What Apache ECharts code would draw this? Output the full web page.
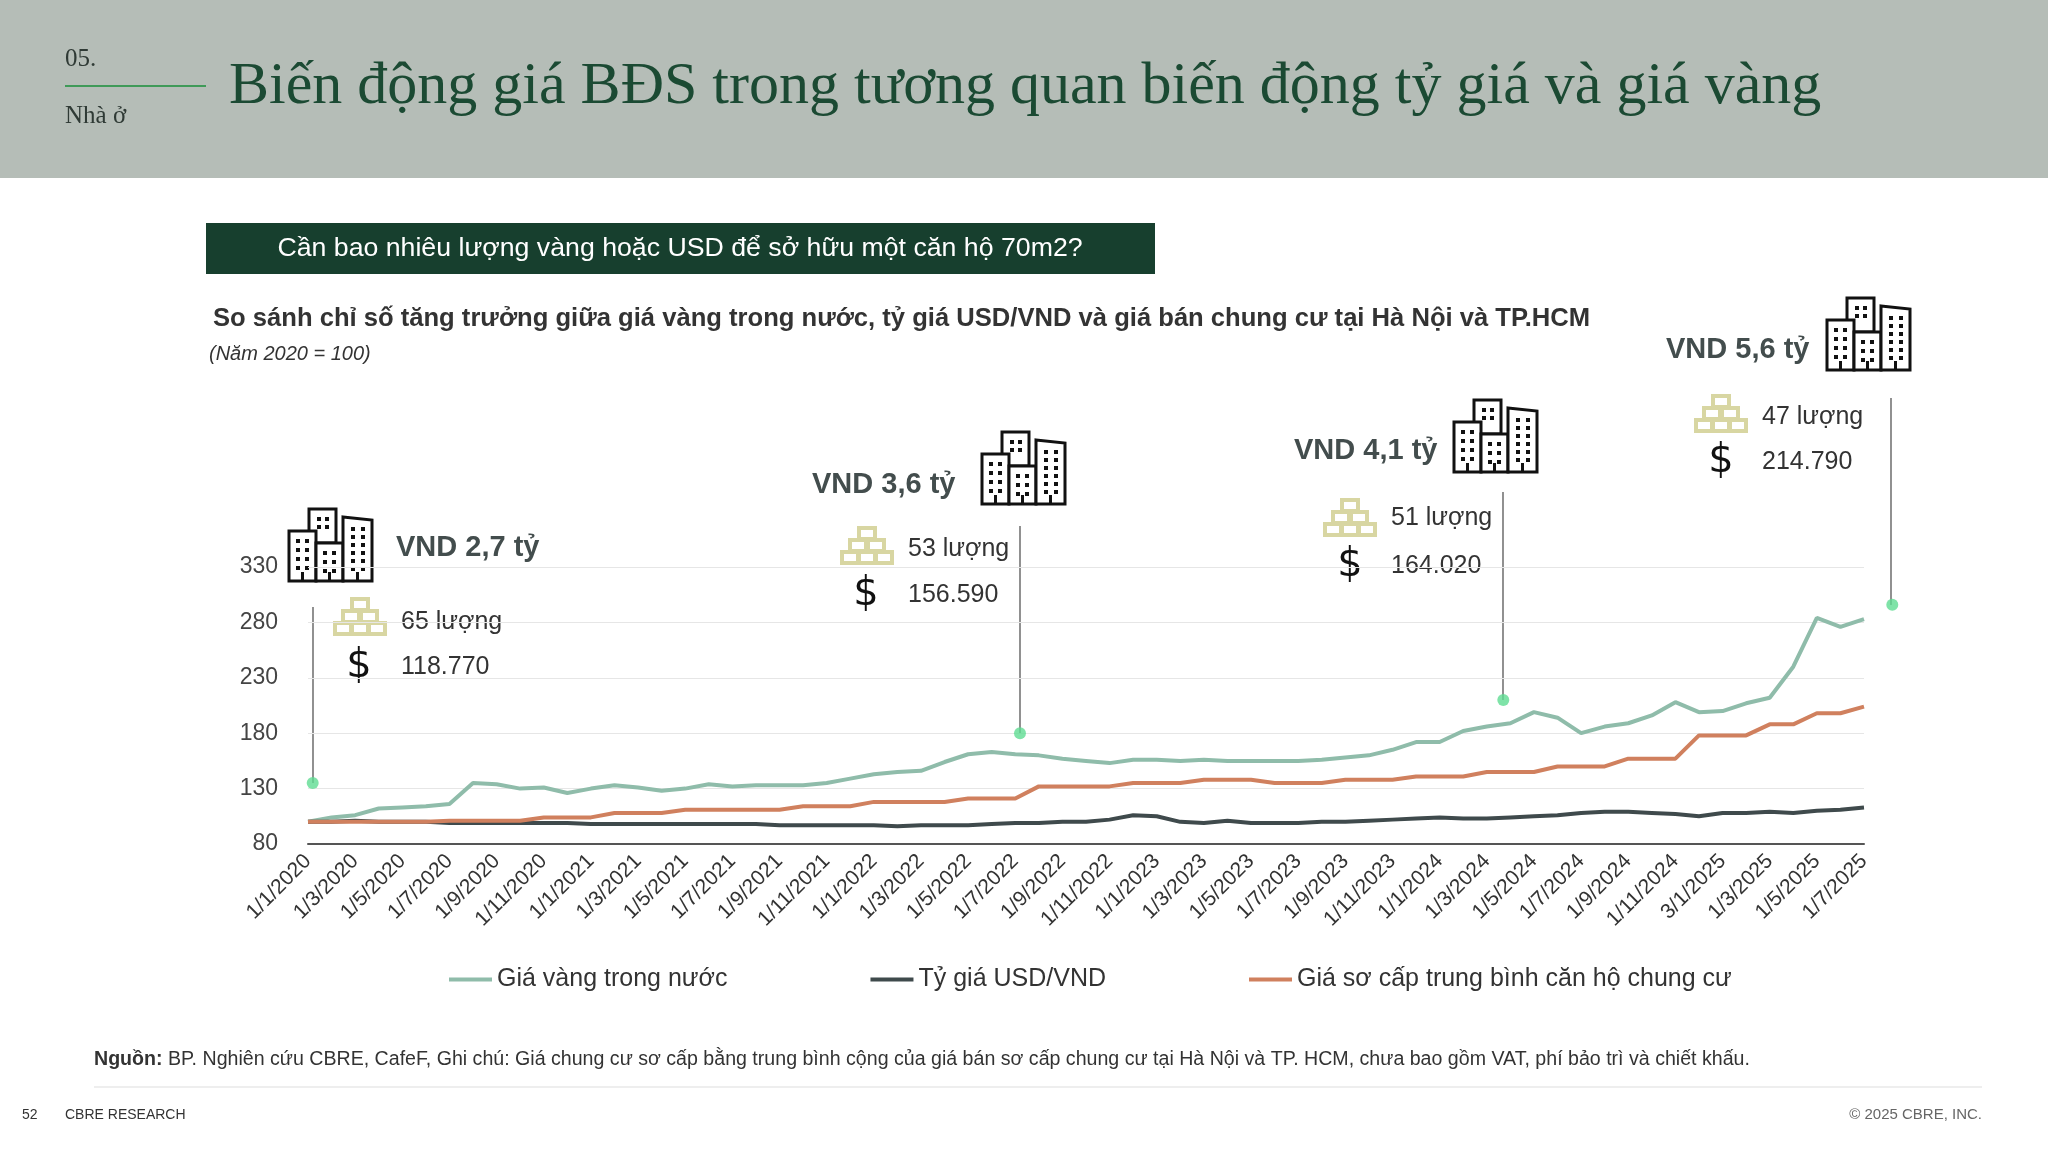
<!DOCTYPE html>
<html><head><meta charset="utf-8">
<script src="https://cdn.jsdelivr.net/npm/echarts@6/dist/echarts.min.js"></script>
<style>html,body{margin:0;padding:0;background:#fff}#c{width:2048px;height:1152px}</style>
</head><body><div id="c"></div>
<script>
// Categories: monthly from 1/1/2020 to 1/7/2025
const categories = [];
for (let y = 2020; y <= 2025; y++) for (let m = 1; m <= 12; m++) { if (y === 2025 && m > 7) break; categories.push('1/' + m + '/' + y); }
categories[60] = '3/1/2025';

const goldIdx = [100,104,106,112,113,114,116,135,134,130,131,126,130,133,131,128,130,134,132,133,133,133,135,139,143,145,146,154,161,163,161,160,157,155,153,156,156,155,156,155,155,155,155,156,158,160,165,172,172,182,186,189,199,194,180,186,189,196,208,199,200,207,212,240,284,276,283];
const usdIdx = [100,100,101,100,100,100,99,99,99,99,99,99,98,98,98,98,98,98,98,98,97,97,97,97,97,96,97,97,97,98,99,99,100,100,102,106,105,100,99,101,99,99,99,100,100,101,102,103,104,103,103,104,105,106,108,109,109,108,107,105,108,108,109,108,110,111,113];
const aptIdx = [100,100,100,100,100,100,101,101,101,101,104,104,104,108,108,108,111,111,111,111,111,114,114,114,118,118,118,118,121,121,121,132,132,132,132,135,135,135,138,138,138,135,135,135,138,138,138,141,141,141,145,145,145,150,150,150,157,157,157,178,178,178,188,188,198,198,204];
// highlighted points (month index, index value)
const dotPoints = [[0.2,135],[30.2,180],[50.7,210],[67.2,296]];
const yTicks = {min: 80, max: 330, interval: 50};

const ann = [
  {vnd:'VND 2,7 tỷ', gold:'65 lượng', usd:'118.770', b:[289,509], t:[396,548], g:[333,597], gt:[401,622], d:[359,667], line:[313,607,783]},
  {vnd:'VND 3,6 tỷ', gold:'53 lượng', usd:'156.590', b:[982,432], t:[812,485], g:[840,526], gt:[908,549], d:[866,595], line:[1020,526,733]},
  {vnd:'VND 4,1 tỷ', gold:'51 lượng', usd:'164.020', b:[1454,400], t:[1294,451], g:[1323,498], gt:[1391,518], d:[1350,566], line:[1503,492,700]},
  {vnd:'VND 5,6 tỷ', gold:'47 lượng', usd:'214.790', b:[1827,298], t:[1666,350], g:[1694,394], gt:[1762,417], d:[1721,462], line:[1891,398,605]}
];

function building(x, y) {
  const s = {stroke:'#111', lineWidth:3, fill:'#fff'};
  const ch = [];
  ch.push({type:'rect', shape:{x:x+20,y:y,width:27,height:34}, style:s});
  ch.push({type:'rect', shape:{x:x,y:y+22,width:27,height:50}, style:s});
  ch.push({type:'rect', shape:{x:x+27,y:y+34,width:27,height:38}, style:s});
  ch.push({type:'polygon', shape:{points:[[x+54,y+8],[x+83,y+11],[x+83,y+72],[x+54,y+72]]}, style:s});
  const win = (wx, wy) => ch.push({type:'rect', shape:{x:wx,y:wy,width:4,height:4}, style:{fill:'#111'}});
  [[x+28,y+8],[x+36,y+8],[x+28,y+16],[x+36,y+16]].forEach(p=>win(...p));
  for (let r=0;r<4;r++){ win(x+7,y+30+r*9); win(x+16,y+30+r*9); }
  for (let r=0;r<3;r++){ win(x+34,y+42+r*9); win(x+43,y+42+r*9); }
  for (let r=0;r<6;r++){ win(x+62,y+18+r*8); win(x+72,y+18+r*8); }
  [x+12,x+39,x+67].forEach(dx=>ch.push({type:'rect', shape:{x:dx,y:y+63,width:3,height:9}, style:{fill:'#111'}}));
  return {type:'group', children:ch};
}
function goldBars(x, y) {
  const s = {fill:'#fff', stroke:'#d8d6a2', lineWidth:4};
  const ch = [];
  const w=16, h=11;
  [[x+19,y+2],[x+10,y+14],[x+28,y+14],[x+2,y+26],[x+19,y+26],[x+36,y+26]].forEach(p=>{
    ch.push({type:'rect', shape:{x:p[0],y:p[1],width:w,height:h}, style:s});
  });
  return {type:'group', children:ch};
}

const graphics = [
  {type:'rect', shape:{x:0,y:0,width:2048,height:178}, style:{fill:'#b5bdb7'}},
  {type:'text', style:{x:65,y:59,text:'05.',font:'25px "Liberation Serif"',fill:'#2f3a35',textVerticalAlign:'middle'}},
  {type:'line', shape:{x1:65,y1:86,x2:206,y2:86}, style:{stroke:'#3f9a58',lineWidth:2}},
  {type:'text', style:{x:65,y:116,text:'Nhà ở',font:'25px "Liberation Serif"',fill:'#2f3a35',textVerticalAlign:'middle'}},
  {type:'text', style:{x:229,y:87,text:'Biến động giá BĐS trong tương quan biến động tỷ giá và giá vàng',font:'60px "Liberation Serif"',fill:'#1b4a33',textVerticalAlign:'middle'}},
  {type:'rect', shape:{x:206,y:223,width:949,height:51}, style:{fill:'#173f2e'}},
  {type:'text', style:{x:680,y:249,text:'Cần bao nhiêu lượng vàng hoặc USD để sở hữu một căn hộ 70m2?',font:'26.7px "Liberation Sans"',fill:'#fff',textAlign:'center',textVerticalAlign:'middle'}},
  {type:'text', style:{x:213,y:319,text:'So sánh chỉ số tăng trưởng giữa giá vàng trong nước, tỷ giá USD/VND và giá bán chung cư tại Hà Nội và TP.HCM',font:'bold 25.6px "Liberation Sans"',fill:'#333',textVerticalAlign:'middle'}},
  {type:'text', style:{x:209,y:354,text:'(Năm 2020 = 100)',font:'italic 20px "Liberation Sans"',fill:'#333',textVerticalAlign:'middle'}},
  {type:'text', style:{x:94,y:1060,rich:{b:{font:'bold 19.6px "Liberation Sans"',fill:'#333'},n:{font:'19.6px "Liberation Sans"',fill:'#333'}},text:'{b|Nguồn:}{n| BP. Nghiên cứu CBRE, CafeF, Ghi chú: Giá chung cư sơ cấp bằng trung bình cộng của giá bán sơ cấp chung cư tại Hà Nội và TP. HCM, chưa bao gồm VAT, phí bảo trì và chiết khấu.}',textVerticalAlign:'middle'}},
  {type:'line', shape:{x1:94,y1:1087,x2:1982,y2:1087}, style:{stroke:'#ddd',lineWidth:1}},
  {type:'text', style:{x:22,y:1115,text:'52',font:'14px "Liberation Sans"',fill:'#333',textVerticalAlign:'middle'}},
  {type:'text', style:{x:65,y:1115,text:'CBRE RESEARCH',font:'14px "Liberation Sans"',fill:'#333',textVerticalAlign:'middle'}},
  {type:'text', style:{x:1982,y:1115,text:'© 2025 CBRE, INC.',font:'15px "Liberation Sans"',fill:'#666',textAlign:'right',textVerticalAlign:'middle'}}
];
ann.forEach(a=>{
  graphics.push(building(a.b[0], a.b[1]));
  graphics.push({type:'text', style:{x:a.t[0],y:a.t[1],text:a.vnd,font:'bold 29px "Liberation Sans"',fill:'#434d4d',textVerticalAlign:'middle'}});
  graphics.push(goldBars(a.g[0], a.g[1]));
  graphics.push({type:'text', style:{x:a.gt[0],y:a.gt[1],text:a.gold,font:'25px "Liberation Sans"',fill:'#333',textVerticalAlign:'middle'}});
  graphics.push({type:'text', style:{x:a.d[0],y:a.d[1],text:'$',font:'40px "DejaVu Sans"',fill:'#111',textAlign:'center',textVerticalAlign:'middle'}});
  graphics.push({type:'text', style:{x:a.gt[0],y:a.d[1],text:a.usd,font:'25px "Liberation Sans"',fill:'#333',textVerticalAlign:'middle'}});
  graphics.push({type:'line', shape:{x1:a.line[0],y1:a.line[1],x2:a.line[0],y2:a.line[2]}, style:{stroke:'#555',lineWidth:1.3}});
});

const chart = echarts.init(document.getElementById('c'));
chart.setOption({
  animation:false,
  textStyle:{fontFamily:'Liberation Sans'},
  grid:{left:308,right:184,top:567,bottom:308},
  xAxis:[
    {type:'category', data:categories, boundaryGap:false,
     axisLine:{lineStyle:{color:'#555',width:2}}, axisTick:{show:false},
     axisLabel:{interval:1, rotate:45, fontSize:21, color:'#333', margin:14}},
    {type:'value', min:0, max:66, show:false}
  ],
  yAxis:{type:'value', min:yTicks.min, max:yTicks.max, interval:yTicks.interval,
    axisLabel:{fontSize:23, color:'#444', margin:30}, splitLine:{lineStyle:{color:'#e6e6e6'}},
    axisLine:{show:false}, axisTick:{show:false}},
  legend:{left:444, top:962, itemGap:143, itemWidth:43, itemHeight:4, icon:'rect',
    textStyle:{fontSize:25, color:'#333'},
    data:['Giá vàng trong nước','Tỷ giá USD/VND','Giá sơ cấp trung bình căn hộ chung cư']},
  series:[
    {name:'Giá vàng trong nước', type:'line', data:goldIdx, showSymbol:false, lineStyle:{width:4, color:'#8fbcaa'}, itemStyle:{color:'#8fbcaa'}},
    {name:'Tỷ giá USD/VND', type:'line', data:usdIdx, showSymbol:false, lineStyle:{width:4, color:'#3f4a4c'}, itemStyle:{color:'#3f4a4c'}},
    {name:'Giá sơ cấp trung bình căn hộ chung cư', type:'line', data:aptIdx, showSymbol:false, lineStyle:{width:4, color:'#d0805e'}, itemStyle:{color:'#d0805e'}},
    {type:'scatter', xAxisIndex:1, data:dotPoints, symbolSize:12, clip:false, itemStyle:{color:'#5fdc92'}, z:5}
  ],
  graphic:graphics
});
</script></body></html>
